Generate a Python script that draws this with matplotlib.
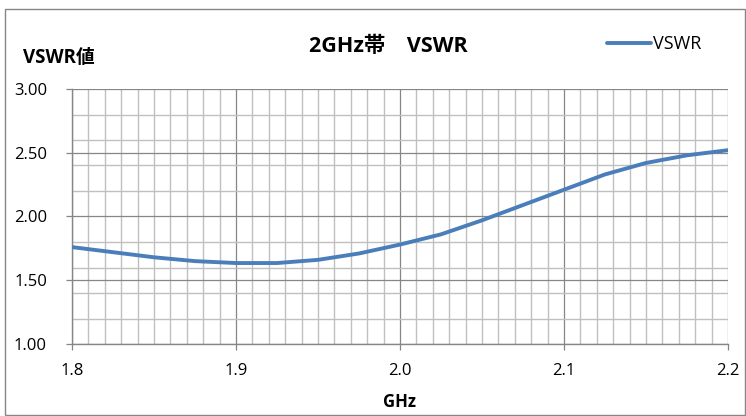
# VSWR curve for the 2GHz band, Excel-style grid

import numpy as np
import matplotlib.pyplot as plt
from matplotlib.ticker import MultipleLocator, FormatStrFormatter
from matplotlib.patches import Rectangle

plt.rcParams['font.family'] = ['Open Sans', 'Noto Sans CJK JP', 'DejaVu Sans']

# Data
freq_ghz = [1.800, 1.825, 1.850, 1.875, 1.900, 1.925, 1.950, 1.975, 2.000,
            2.025, 2.050, 2.075, 2.100, 2.125, 2.150, 2.175, 2.200]
vswr = [1.76, 1.72, 1.68, 1.65, 1.635, 1.635, 1.66, 1.71, 1.78,
        1.86, 1.97, 2.09, 2.21, 2.33, 2.42, 2.48, 2.52]

W, H = 746, 416
fig = plt.figure(figsize=(W / 100, H / 100), dpi=100)

# outer chart border
fig.patches.append(Rectangle((5 / W, 1 / H), 740 / W, 406 / H, transform=fig.transFigure,
                             fill=False, edgecolor='#868686', linewidth=1.0))

ax = fig.add_axes([72 / W, 1 - 344 / H, (728 - 72) / W, (344 - 89) / H])

ax.plot(freq_ghz, vswr, color='#4a7ebb', linewidth=2.8, solid_capstyle='round',
        solid_joinstyle='round', zorder=5, label='VSWR')

ax.set_xlim(1.8, 2.2)
ax.set_ylim(1.0, 3.0)

ax.xaxis.set_major_locator(MultipleLocator(0.1))
ax.xaxis.set_minor_locator(MultipleLocator(0.01))
ax.yaxis.set_major_locator(MultipleLocator(0.5))
ax.yaxis.set_minor_locator(MultipleLocator(0.2))
ax.xaxis.set_major_formatter(FormatStrFormatter('%.1f'))
ax.yaxis.set_major_formatter(FormatStrFormatter('%.2f'))

ax.grid(which='minor', color='#c0c0c0', linewidth=1.0)
ax.grid(which='major', color='#868686', linewidth=0.9)
ax.set_axisbelow(True)

for side in ['top', 'right']:
    ax.spines[side].set_visible(False)
for side in ['left', 'bottom']:
    ax.spines[side].set_color('#868686')
    ax.spines[side].set_linewidth(1.0)

ax.tick_params(which='major', direction='out', length=4, width=0.9, color='#868686',
               labelsize=12, labelcolor='black')
ax.tick_params(axis='x', which='major', pad=10)
ax.tick_params(axis='y', which='major', pad=14)
ax.tick_params(which='minor', length=0)

# texts
fig.text(23 / W, 1 - 58 / H, 'VSWR値', fontsize=13.5, fontweight='bold', ha='left', va='center')
fig.text(388 / W, 1 - 47 / H, '2GHz帯\u3000VSWR', fontsize=15.5, fontweight='bold',
         ha='center', va='center')
fig.text(400 / W, 1 - 402 / H, 'GHz', fontsize=12, fontweight='bold', ha='center', va='center')

ax.legend(loc='center left', bbox_to_anchor=(607 / W, 1 - 44 / H), bbox_transform=fig.transFigure,
          frameon=False, fontsize=13, handlelength=2.45, handletextpad=0.12,
          borderpad=0, borderaxespad=0)

fig.savefig('out.png', dpi=100)
